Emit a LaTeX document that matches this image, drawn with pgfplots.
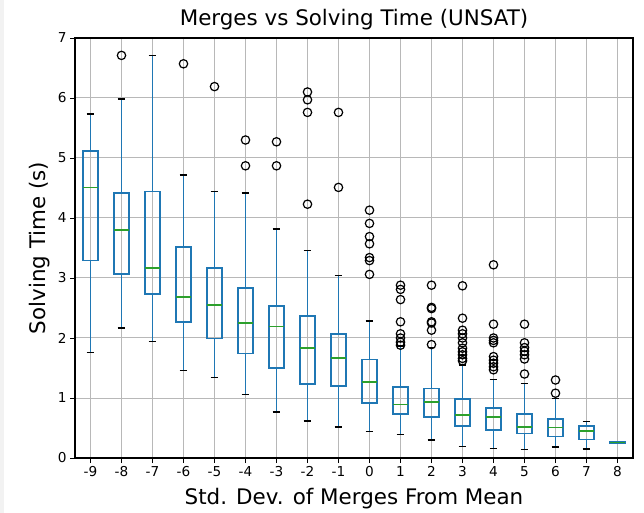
\documentclass[border=0pt]{standalone}
\usepackage{fontspec}
\setmainfont{DejaVu Sans}
\usepackage{pgfplots}
\pgfplotsset{compat=1.18}
\usepgfplotslibrary{statistics}
\definecolor{boxblue}{HTML}{1F77B4}
\definecolor{medgreen}{HTML}{2CA02C}
\definecolor{gridgray}{HTML}{B8B8B8}
\definecolor{stripgray}{HTML}{F2F2F2}
\pgfplotsset{
  /pgfplots/boxplot/draw/lower whisker/.code={%
    \draw[draw=boxblue, line width=1.8bp, solid]
      (boxplot box cs:\pgfplotsboxplotvalue{lower whisker},0.5) --
      (boxplot box cs:\pgfplotsboxplotvalue{lower quartile},0.5);
    \draw[draw=black, line width=1.5bp, solid]
      (boxplot whisker cs:\pgfplotsboxplotvalue{lower whisker},0) --
      (boxplot whisker cs:\pgfplotsboxplotvalue{lower whisker},1);
  },
  /pgfplots/boxplot/draw/upper whisker/.code={%
    \draw[draw=boxblue, line width=1.8bp, solid]
      (boxplot box cs:\pgfplotsboxplotvalue{upper whisker},0.5) --
      (boxplot box cs:\pgfplotsboxplotvalue{upper quartile},0.5);
    \draw[draw=black, line width=1.5bp, solid]
      (boxplot whisker cs:\pgfplotsboxplotvalue{upper whisker},0) --
      (boxplot whisker cs:\pgfplotsboxplotvalue{upper whisker},1);
  },
  /pgfplots/boxplot/draw/box/.code={%
    \draw[draw=boxblue, line width=1.8bp, solid, fill=none]
      (boxplot box cs:\pgfplotsboxplotvalue{lower quartile},0) rectangle
      (boxplot box cs:\pgfplotsboxplotvalue{upper quartile},1);
  },
  /pgfplots/boxplot/draw/median/.code={%
    \draw[draw=medgreen, line width=1.6bp, solid]
      (boxplot box cs:\pgfplotsboxplotvalue{median},0) --
      (boxplot box cs:\pgfplotsboxplotvalue{median},1);
  },
  mybox/.style={draw=boxblue, mark=o,
    mark options={draw=black, fill=none, line width=1.2bp, solid}, mark size=4.2bp},
}
\begin{document}
\begin{tikzpicture}
\begin{axis}[
  anchor=south west, at={(0,0)},
  scale only axis, width=558bp, height=420bp,
  xmin=0.5, xmax=18.5, ymin=0, ymax=7,
  xtick={1,...,18},
  xticklabels={-9,-8,-7,-6,-5,-4,-3,-2,-1,0,1,2,3,4,5,6,7,8},
  ytick={0,1,...,7},
  tick pos=left, tick align=outside,
  major tick length=5bp,
  every tick/.style={black, line width=0.9bp},
  grid=major,
  major grid style={gridgray, line width=1bp},
  axis line style={black, line width=1.1bp},
  /pgf/number format/assume math mode=true,
  ticklabel style={font=\fontsize{13.7}{16}\selectfont},
  title={Merges vs Solving Time (UNSAT)},
  every axis title/.style={at={(axis description cs:0.5,1.02857)}, anchor=base, font=\fontsize{21.5}{25}\selectfont},
  xlabel={Std. Dev. of Merges From Mean},
  every axis x label/.style={at={(axis description cs:0.5,-0.1119)}, anchor=base, font=\fontsize{21.5}{25}\selectfont},
  ylabel={Solving Time (s)},
  every axis y label/.style={at={(axis description cs:-0.05376,0.5)}, rotate=90, anchor=base, font=\fontsize{21.5}{25}\selectfont},
  boxplot/draw direction=y,
  boxplot/box extend=0.5,
  boxplot/whisker extend=0.25,
]
\addplot[mybox, boxplot prepared={draw position=1, lower whisker=1.76, lower quartile=3.29, median=4.51, upper quartile=5.12, upper whisker=5.73}] coordinates {};
\addplot[mybox, boxplot prepared={draw position=2, lower whisker=2.17, lower quartile=3.07, median=3.80, upper quartile=4.41, upper whisker=5.98}] table[row sep=\\, y index=0] {data\\ 6.71\\};
\addplot[mybox, boxplot prepared={draw position=3, lower whisker=1.94, lower quartile=2.73, median=3.17, upper quartile=4.44, upper whisker=6.71}] coordinates {};
\addplot[mybox, boxplot prepared={draw position=4, lower whisker=1.46, lower quartile=2.26, median=2.68, upper quartile=3.51, upper whisker=4.72}] table[row sep=\\, y index=0] {data\\ 6.57\\};
\addplot[mybox, boxplot prepared={draw position=5, lower whisker=1.34, lower quartile=1.99, median=2.55, upper quartile=3.16, upper whisker=4.44}] table[row sep=\\, y index=0] {data\\ 6.19\\};
\addplot[mybox, boxplot prepared={draw position=6, lower whisker=1.06, lower quartile=1.74, median=2.25, upper quartile=2.83, upper whisker=4.42}] table[row sep=\\, y index=0] {data\\ 5.30\\ 4.87\\};
\addplot[mybox, boxplot prepared={draw position=7, lower whisker=0.77, lower quartile=1.50, median=2.19, upper quartile=2.53, upper whisker=3.82}] table[row sep=\\, y index=0] {data\\ 5.27\\ 4.87\\};
\addplot[mybox, boxplot prepared={draw position=8, lower whisker=0.62, lower quartile=1.23, median=1.83, upper quartile=2.36, upper whisker=3.46}] table[row sep=\\, y index=0] {data\\ 6.10\\ 5.97\\ 5.76\\ 4.23\\};
\addplot[mybox, boxplot prepared={draw position=9, lower whisker=0.52, lower quartile=1.20, median=1.67, upper quartile=2.06, upper whisker=3.04}] table[row sep=\\, y index=0] {data\\ 5.76\\ 4.51\\};
\addplot[mybox, boxplot prepared={draw position=10, lower whisker=0.44, lower quartile=0.92, median=1.27, upper quartile=1.64, upper whisker=2.28}] table[row sep=\\, y index=0] {data\\ 4.13\\ 3.91\\ 3.69\\ 3.57\\ 3.34\\ 3.29\\ 3.06\\};
\addplot[mybox, boxplot prepared={draw position=11, lower whisker=0.39, lower quartile=0.73, median=0.89, upper quartile=1.19, upper whisker=1.87}] table[row sep=\\, y index=0] {data\\ 2.88\\ 2.81\\ 2.64\\ 2.27\\ 2.07\\ 2.00\\ 1.93\\ 1.88\\};
\addplot[mybox, boxplot prepared={draw position=12, lower whisker=0.30, lower quartile=0.68, median=0.93, upper quartile=1.16, upper whisker=1.84}] table[row sep=\\, y index=0] {data\\ 2.88\\ 2.51\\ 2.49\\ 2.27\\ 2.25\\ 2.13\\ 1.89\\};
\addplot[mybox, boxplot prepared={draw position=13, lower whisker=0.19, lower quartile=0.53, median=0.72, upper quartile=0.98, upper whisker=1.55}] table[row sep=\\, y index=0] {data\\ 2.87\\ 2.33\\ 2.13\\ 2.07\\ 2.00\\ 1.92\\ 1.83\\ 1.77\\ 1.72\\ 1.66\\ 1.62\\};
\addplot[mybox, boxplot prepared={draw position=14, lower whisker=0.16, lower quartile=0.47, median=0.68, upper quartile=0.84, upper whisker=1.31}] table[row sep=\\, y index=0] {data\\ 3.22\\ 2.23\\ 2.00\\ 1.96\\ 1.92\\ 1.69\\ 1.63\\ 1.58\\ 1.52\\ 1.47\\};
\addplot[mybox, boxplot prepared={draw position=15, lower whisker=0.14, lower quartile=0.41, median=0.52, upper quartile=0.74, upper whisker=1.24}] table[row sep=\\, y index=0] {data\\ 2.23\\ 1.92\\ 1.84\\ 1.78\\ 1.72\\ 1.65\\ 1.40\\};
\addplot[mybox, boxplot prepared={draw position=16, lower whisker=0.18, lower quartile=0.36, median=0.51, upper quartile=0.65, upper whisker=0.99}] table[row sep=\\, y index=0] {data\\ 1.30\\ 1.08\\};
\addplot[mybox, boxplot prepared={draw position=17, lower whisker=0.15, lower quartile=0.31, median=0.45, upper quartile=0.53, upper whisker=0.61}] coordinates {};
\addplot[mybox, boxplot prepared={draw position=18, lower whisker=0.25, lower quartile=0.255, median=0.26, upper quartile=0.265, upper whisker=0.27}] coordinates {};
\end{axis}
\fill[stripgray] (-75bp,-55bp) rectangle (-70.5bp,458bp);
\useasboundingbox (-75bp,-55bp) rectangle (569bp,458bp);
\end{tikzpicture}
\end{document}
